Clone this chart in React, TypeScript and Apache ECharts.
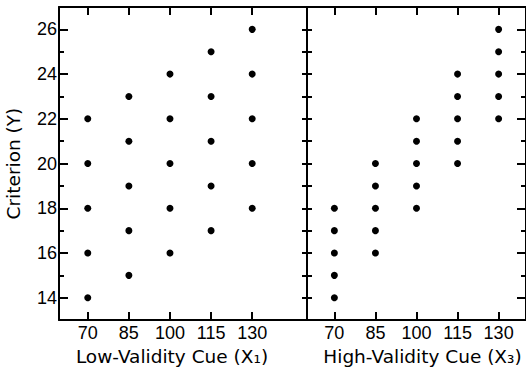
import React, { useEffect, useRef } from "react";
import * as echarts from "echarts";

const CUE_VALUES = [70, 85, 100, 115, 130];
const Y_MAJOR = [14, 16, 18, 20, 22, 24, 26];
const Y_MINOR = [15, 17, 19, 21, 23, 25];
const Y_ALL = [14, 15, 16, 17, 18, 19, 20, 21, 22, 23, 24, 25, 26];
// criterion values observed at each cue value
const LOW_VALIDITY_Y = [
  [14, 16, 18, 20, 22],
  [15, 17, 19, 21, 23],
  [16, 18, 20, 22, 24],
  [17, 19, 21, 23, 25],
  [18, 20, 22, 24, 26],
];
const HIGH_VALIDITY_Y = [
  [14, 15, 16, 17, 18],
  [16, 17, 18, 19, 20],
  [18, 19, 20, 21, 22],
  [20, 21, 22, 23, 24],
  [22, 23, 24, 25, 26],
];
const X_NAME_LOW = "Low-Validity Cue (X\u2081)";
const X_NAME_HIGH = "High-Validity Cue (X\u2083)";
const Y_NAME = "Criterion (Y)";

const toPairs = (ys: number[][]) =>
  CUE_VALUES.flatMap((x, i) => ys[i].map((y) => [x, y]));

const BLACK = "#000";
const TICK_FONT = "'Liberation Sans', Arial, sans-serif";
const NAME_FONT = "'DejaVu Sans', sans-serif";

export default function App() {
  const ref = useRef<HTMLDivElement>(null);
  useEffect(() => {
    if (!ref.current) return;
    const chart = echarts.init(ref.current, undefined, { renderer: "svg" });
    const line = { show: true, lineStyle: { color: BLACK, width: 2 } };
    const noLine = { show: false };
    const xBase = (gridIndex: number, position: string, min: number, max: number) => ({
      type: "value",
      gridIndex,
      position,
      min,
      max,
      axisLine: line,
      splitLine: { show: false },
      axisTick: {
        show: true,
        inside: true,
        length: 8,
        customValues: CUE_VALUES,
        lineStyle: { color: BLACK, width: 2 },
      },
      axisLabel: { show: false },
    });
    const yBase = (
      gridIndex: number,
      position: string,
      ticks: number[],
      len: number,
      showLine: boolean
    ) => ({
      type: "value",
      gridIndex,
      position,
      min: 13,
      max: 27,
      axisLine: showLine ? line : noLine,
      splitLine: { show: false },
      axisTick: {
        show: true,
        inside: true,
        length: len,
        customValues: ticks,
        lineStyle: { color: BLACK, width: 2 },
      },
      axisLabel: { show: false },
    });

    const option: any = {
      animation: false,
      grid: [
        { left: 59, top: 7, width: 248, height: 316 },
        { left: 307, top: 7, width: 221, height: 316 },
      ],
      xAxis: [
        {
          ...xBase(0, "bottom", 59.5, 150),
          axisLabel: {
            show: true,
            customValues: CUE_VALUES,
            color: BLACK,
            fontSize: 18,
            fontFamily: TICK_FONT,
            margin: 4,
          },
          name: X_NAME_LOW,
          nameLocation: "middle",
          nameGap: 21,
          nameTextStyle: {
            color: BLACK,
            fontSize: 18.5,
            fontFamily: NAME_FONT,
            padding: [0, 22, 0, 0],
          },
        },
        xBase(0, "top", 59.5, 150),
        {
          ...xBase(1, "bottom", 60, 140),
          axisLabel: {
            show: true,
            customValues: CUE_VALUES,
            color: BLACK,
            fontSize: 18,
            fontFamily: TICK_FONT,
            margin: 4,
          },
          name: X_NAME_HIGH,
          nameLocation: "middle",
          nameGap: 21,
          nameTextStyle: {
            color: BLACK,
            fontSize: 18.5,
            fontFamily: NAME_FONT,
            padding: [0, 0, 0, 12],
          },
        },
        xBase(1, "top", 60, 140),
      ],
      yAxis: [
        {
          ...yBase(0, "left", Y_MAJOR, 9, true),
          axisLabel: {
            show: true,
            customValues: Y_MAJOR,
            color: BLACK,
            fontSize: 18,
            fontFamily: TICK_FONT,
            margin: 2,
          },
          name: Y_NAME,
          nameLocation: "middle",
          nameGap: 36,
          nameTextStyle: { color: BLACK, fontSize: 18.5, fontFamily: NAME_FONT },
        },
        yBase(0, "left", Y_MINOR, 5, false),
        yBase(0, "right", Y_ALL, 5, true),
        yBase(1, "left", Y_ALL, 5, true),
        yBase(1, "right", Y_MAJOR, 9, true),
        yBase(1, "right", Y_MINOR, 5, false),
      ],
      series: [
        {
          type: "scatter",
          xAxisIndex: 0,
          yAxisIndex: 0,
          data: toPairs(LOW_VALIDITY_Y),
          symbolSize: 7,
          itemStyle: { color: BLACK, opacity: 1 },
        },
        {
          type: "scatter",
          xAxisIndex: 2,
          yAxisIndex: 3,
          data: toPairs(HIGH_VALIDITY_Y),
          symbolSize: 7,
          itemStyle: { color: BLACK, opacity: 1 },
        },
      ],
    };
    chart.setOption(option);
    return () => chart.dispose();
  }, []);
  return (
    <div
      ref={ref}
      style={{ position: "absolute", left: 0, top: 0, width: 526, height: 371, background: "#fff" }}
    />
  );
}
